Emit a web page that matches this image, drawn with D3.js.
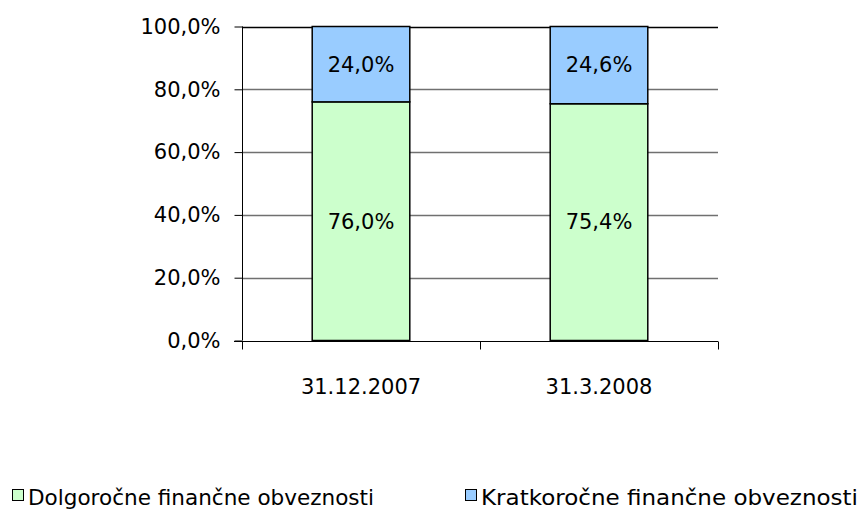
<!DOCTYPE html>
<html lang="sl">
<head>
  <meta charset="UTF-8">
  <title>Financne obveznosti</title>
  <style>
    body { margin: 0; background: #fff; }
    text { font-family: 'DejaVu Sans', sans-serif; fill: #000; }
  </style>
</head>
<body>
  <svg id="svg" width="862" height="509"></svg>

  <script src="https://d3js.org/d3.v7.min.js"></script>
  <script>
    const categories = ['31.12.2007', '31.3.2008']
    const dolgorocne = [76.0, 75.4]
    const kratkorocne = [24.0, 24.6]
    const seriesNames = ['Dolgoročne finančne obveznosti', 'Kratkoročne finančne obveznosti']
    const seriesColors = ['#CCFFCC', '#99CCFF']
    const yTicks = [0, 20, 40, 60, 80, 100]

    const fmt = v => v.toFixed(1).replace('.', ',') + '%'

    const svg = d3.select('#svg')
    const plotLeft = 242, plotRight = 718, plotTop = 26.5, plotBottom = 340.5

    const x = d3.scaleBand()
      .domain(categories)
      .range([plotLeft, plotRight])
      .paddingInner(0.59)
      .paddingOuter(0.295)

    const y = d3.scaleLinear()
      .domain([0, 100])
      .range([plotBottom, plotTop])

    // gridlines
    svg.append('g')
      .selectAll('line')
      .data(yTicks.filter(d => d > 0))
      .enter()
      .append('line')
      .attr('x1', plotLeft)
      .attr('x2', plotRight)
      .attr('y1', d => Math.round(y(d)) + 0.5)
      .attr('y2', d => Math.round(y(d)) + 0.5)
      .attr('stroke', d => d === 100 ? '#000' : '#707070')
      .attr('stroke-width', 1.3)

    // stacked bars
    const stacked = categories.map((c, i) => ({
      cat: c,
      parts: [
        { y0: 0, y1: dolgorocne[i], v: dolgorocne[i], color: seriesColors[0] },
        { y0: dolgorocne[i], y1: dolgorocne[i] + kratkorocne[i], v: kratkorocne[i], color: seriesColors[1] }
      ]
    }))

    const groups = svg.append('g')
      .selectAll('g')
      .data(stacked)
      .enter()
      .append('g')

    groups.selectAll('rect')
      .data(d => d.parts.map(p => Object.assign({ cat: d.cat }, p)))
      .enter()
      .append('rect')
      .attr('x', d => x(d.cat))
      .attr('width', x.bandwidth())
      .attr('y', d => y(d.y1))
      .attr('height', d => y(d.y0) - y(d.y1))
      .attr('fill', d => d.color)
      .attr('stroke', '#000')
      .attr('stroke-width', 1.5)

    groups.selectAll('text')
      .data(d => d.parts.map(p => Object.assign({ cat: d.cat }, p)))
      .enter()
      .append('text')
      .text(d => fmt(d.v))
      .attr('x', d => x(d.cat) + x.bandwidth() / 2)
      .attr('y', d => (y(d.y0) + y(d.y1)) / 2)
      .attr('dy', '0.35em')
      .attr('text-anchor', 'middle')
      .style('font-size', '21px')

    // y axis
    const yAxis = svg.append('g')
      .attr('transform', `translate(${plotLeft + 0.5},0)`)
      .call(d3.axisLeft(y).tickValues(yTicks).tickSize(8).tickFormat(fmt))
    yAxis.select('.domain').attr('stroke', '#000').attr('d', `M0,${plotTop}V${plotBottom}`)
    yAxis.selectAll('.tick line').attr('stroke', '#000')
    yAxis.selectAll('.tick text')
      .attr('x', -22)
      .style('font-size', '21px')
      .style('font-family', "'DejaVu Sans', sans-serif")

    // x axis
    const xAxis = svg.append('g')
      .attr('transform', `translate(0,${Math.round(plotBottom) + 0.5})`)
    xAxis.append('line')
      .attr('x1', plotLeft - 8).attr('x2', plotRight)
      .attr('stroke', '#000')
    const xEdges = [plotLeft].concat(categories.map(c => x(c) + x.bandwidth() / 2 + x.step() / 2))
    xAxis.selectAll('.xt')
      .data(xEdges)
      .enter()
      .append('line')
      .attr('x1', d => Math.round(d) + 0.5)
      .attr('x2', d => Math.round(d) + 0.5)
      .attr('y1', 0).attr('y2', 8)
      .attr('stroke', '#000')
    xAxis.selectAll('text')
      .data(categories)
      .enter()
      .append('text')
      .text(d => d)
      .attr('x', d => x(d) + x.bandwidth() / 2)
      .attr('y', 52)
      .attr('text-anchor', 'middle')
      .style('font-size', '21px')

    // legend
    const legendX = [12, 465]
    const legend = svg.append('g')
      .selectAll('g')
      .data(seriesNames)
      .enter()
      .append('g')
      .attr('transform', (d, i) => `translate(${legendX[i]},489)`)
    legend.append('rect')
      .attr('x', 0.5).attr('y', 0.5)
      .attr('width', 11).attr('height', 11)
      .attr('fill', (d, i) => seriesColors[i])
      .attr('stroke', '#000')
    legend.append('text')
      .text(d => d)
      .attr('x', 16)
      .attr('y', 16)
      .attr('textLength', (d, i) => i === 0 ? 346 : 377)
      .attr('lengthAdjust', 'spacingAndGlyphs')
      .style('font-size', '21px')
  </script>
</body>
</html>
